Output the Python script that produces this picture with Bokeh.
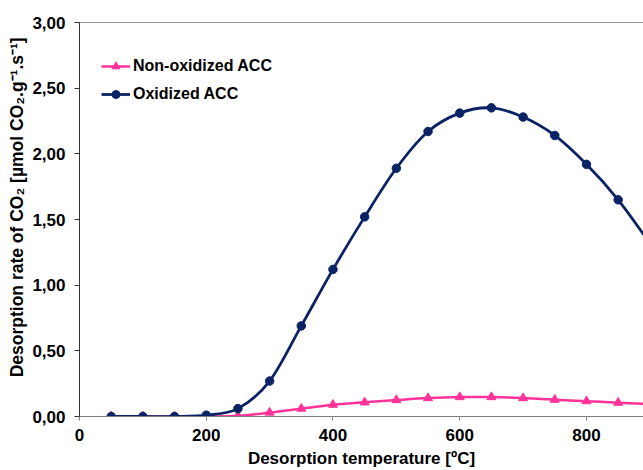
from bokeh.plotting import figure
from bokeh.models import (Range1d, SingleIntervalTicker, FixedTicker, CustomJSTickFormatter,
                          Legend, LegendItem, Span, ColumnDataSource)
from bokeh.embed import file_html
from bokeh.resources import INLINE

# Desorption temperature [ºC]
temperature = [50, 100, 150, 200, 250, 300, 350, 400, 450, 500, 550, 600,
               650, 700, 750, 800, 850, 900]
# Desorption rate of CO2 [µmol CO2 g-1 s-1]
non_oxidized = [0.0, 0.0, 0.0, 0.0, 0.005, 0.03, 0.06, 0.09, 0.108, 0.125, 0.14, 0.148,
                0.148, 0.14, 0.128, 0.117, 0.105, 0.095]
oxidized = [0.0, 0.0, 0.0, 0.01, 0.06, 0.27, 0.69, 1.12, 1.52, 1.89, 2.17, 2.31,
            2.35, 2.28, 2.14, 1.92, 1.65, 1.32]

x_ticks = [0, 200, 400, 600, 800]
series_names = ["Non-oxidized ACC", "Oxidized ACC"]

PINK = "#FF3399"
NAVY = "#0B2265"
FONT = "Liberation Sans"


def smooth_segments(xs, ys):
    """Cubic Bezier segments through the points (smoothed line)."""
    n = len(xs)
    seg = dict(x0=[], y0=[], x1=[], y1=[], cx0=[], cy0=[], cx1=[], cy1=[])
    for i in range(n - 1):
        a = i - 1 if i > 0 else i
        d = i + 2 if i + 2 < n else i + 1
        seg["x0"].append(xs[i]); seg["y0"].append(ys[i])
        seg["x1"].append(xs[i + 1]); seg["y1"].append(ys[i + 1])
        seg["cx0"].append(xs[i] + (xs[i + 1] - xs[a]) / 6.0)
        seg["cy0"].append(ys[i] + (ys[i + 1] - ys[a]) / 6.0)
        seg["cx1"].append(xs[i + 1] - (xs[d] - xs[i]) / 6.0)
        seg["cy1"].append(ys[i + 1] - (ys[d] - ys[i]) / 6.0)
    return ColumnDataSource(seg)


p = figure(width=643, height=470, output_backend="svg", toolbar_location=None,
           x_range=Range1d(0, 890), y_range=Range1d(0, 3),
           min_border_left=79, min_border_top=22, min_border_bottom=54,
           min_border_right=0)
p.background_fill_color = "white"
p.border_fill_color = "white"
p.outline_line_color = None
p.grid.visible = False

# top edge of the plotting area
p.add_layout(Span(location=3, dimension="width", line_color="#333333", line_width=1))

pink_line = p.bezier(x0="x0", y0="y0", x1="x1", y1="y1", cx0="cx0", cy0="cy0",
                     cx1="cx1", cy1="cy1", source=smooth_segments(temperature, non_oxidized),
                     line_color=PINK, line_width=2.5)
pink_pts = p.scatter(temperature, non_oxidized, marker="triangle", size=9,
                     fill_color=PINK, line_color=PINK)
navy_line = p.bezier(x0="x0", y0="y0", x1="x1", y1="y1", cx0="cx0", cy0="cy0",
                     cx1="cx1", cy1="cy1", source=smooth_segments(temperature, oxidized),
                     line_color=NAVY, line_width=2.8)
navy_pts = p.scatter(temperature, oxidized, marker="circle", size=8.5,
                     fill_color=NAVY, line_color=NAVY)

# axes
xa = p.xaxis[0]
xa.ticker = FixedTicker(ticks=x_ticks)
xa.minor_tick_line_color = None
xa.major_tick_in = 0
xa.major_tick_out = 4
xa.axis_line_color = "#808080"
xa.major_tick_line_color = "#808080"
xa.major_label_standoff = 8
xa.axis_label = "Desorption temperature [ºC]"
xa.axis_label_standoff = 5

ya = p.yaxis[0]
ya.ticker = SingleIntervalTicker(interval=0.5)
ya.minor_tick_line_color = None
ya.major_tick_in = 0
ya.major_tick_out = 5
ya.axis_line_color = "#333333"
ya.major_tick_line_color = "#333333"
ya.major_label_standoff = 9
ya.formatter = CustomJSTickFormatter(code="return tick.toFixed(2).replace('.', ',');")
# leading no-break spaces lift the rotated title slightly above the frame centre
ya.axis_label = "\u00a0" * 5 + "Desorption rate of CO₂ [µmol CO₂.g⁻¹.s⁻¹]"
ya.axis_label_standoff = 2

for ax in (xa, ya):
    ax.major_label_text_font = FONT
    ax.major_label_text_font_style = "bold"
    ax.major_label_text_font_size = "17px"
    ax.major_label_text_color = "black"
    ax.axis_label_text_font = FONT
    ax.axis_label_text_font_style = "bold"
    ax.axis_label_text_font_size = "17px"
    ax.axis_label_text_color = "black"
ya.axis_label_text_font_size = "17.5px"

legend = Legend(items=[
    LegendItem(label=series_names[0], renderers=[pink_line, pink_pts]),
    LegendItem(label=series_names[1], renderers=[navy_line, navy_pts]),
], location=(22, 312))
legend.margin = 0
legend.padding = 0
legend.spacing = 8
legend.glyph_width = 29
legend.glyph_height = 20
legend.label_height = 20
legend.label_standoff = 3
legend.border_line_color = None
legend.background_fill_alpha = 0
legend.label_text_font = FONT
legend.label_text_font_style = "bold"
legend.label_text_font_size = "16px"
legend.label_text_color = "black"
p.add_layout(legend)

open("out.html", "w").write(file_html(p, INLINE))
